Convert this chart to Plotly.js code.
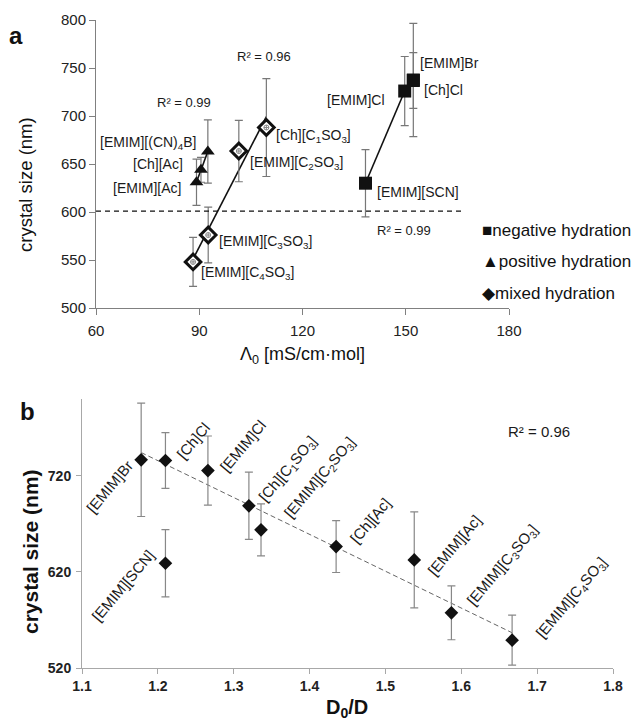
<!DOCTYPE html>
<html>
<head>
<meta charset="utf-8">
<script src="https://cdn.plot.ly/plotly-3.0.1.min.js"></script>
<style>html,body{margin:0;padding:0;background:#fff;}#chart{width:633px;height:722px;}</style>
</head>
<body>
<div id="chart"></div>
<script>
// ---------- Panel a data (Λ0 vs crystal size) ----------
const negNames = ['[EMIM][SCN]', '[EMIM]Cl', '[EMIM]Br', '[Ch]Cl'];
const negL0 = [138.3, 149.7, 152.2, 152.2];
const negSize = [630, 726, 737.5, 737];
const negErr = [35, 36, 59, 29];

const posNames = ['[EMIM][Ac]', '[Ch][Ac]', '[EMIM][(CN)<sub>4</sub>B]'];
const posL0 = [89.2, 90.5, 92.5];
const posSize = [631, 644, 663];
const posErr = [24, 13, 33];

const mixNames = ['[EMIM][C<sub>4</sub>SO<sub>3</sub>]', '[EMIM][C<sub>3</sub>SO<sub>3</sub>]', '[EMIM][C<sub>2</sub>SO<sub>3</sub>]', '[Ch][C<sub>1</sub>SO<sub>3</sub>]'];
const mixL0 = [88.2, 92.6, 101.5, 109.5];
const mixSize = [548, 576, 663.5, 688];
const mixErr = [25.5, 29, 32, 51];

const thresholdSize = 601;
const thresholdL0End = 166.5;

const aXTicks = [60, 90, 120, 150, 180];
const aYTicks = [500, 550, 600, 650, 700, 750, 800];

const aR2Text = ['R² = 0.96', 'R² = 0.99', 'R² = 0.99'];
const aR2X = [108.8, 85.7, 149.4];
const aR2Y = [761.5, 713.9, 580.5];

const legendNames = ['negative hydration', 'positive hydration', 'mixed hydration'];
const legendSymbols = ['■', '▲', '◆'];

// ---------- Panel b data (D0/D vs crystal size) ----------
const bNames = ['[EMIM]Br', '[Ch]Cl', '[EMIM]Cl', '[Ch][C<sub>1</sub>SO<sub>3</sub>]', '[EMIM][C<sub>2</sub>SO<sub>3</sub>]', '[Ch][Ac]', '[EMIM][Ac]', '[EMIM][C<sub>3</sub>SO<sub>3</sub>]', '[EMIM][C<sub>4</sub>SO<sub>3</sub>]', '[EMIM][SCN]'];
const bD0D = [1.178, 1.21, 1.266, 1.32, 1.336, 1.435, 1.538, 1.587, 1.667, 1.21];
const bSize = [736.7, 736, 725.5, 688.8, 663.8, 646.4, 632.5, 577.4, 549, 629];
const bErr = [59, 29, 36, 35, 27, 27, 50, 28, 26, 35];
const bInFit = [true, true, true, true, true, true, true, true, true, false];

const bXTicks = [1.1, 1.2, 1.3, 1.4, 1.5, 1.6, 1.7, 1.8];
const bYTicks = [520, 620, 720];
const bR2Text = 'R² = 0.96';
const bR2X = 1.7026, bR2Y = 766;

// ---------- helpers ----------
function linfit(xs, ys) {
  const n = xs.length;
  const mx = xs.reduce((a, b) => a + b, 0) / n;
  const my = ys.reduce((a, b) => a + b, 0) / n;
  let sxy = 0, sxx = 0;
  for (let i = 0; i < n; i++) { sxy += (xs[i] - mx) * (ys[i] - my); sxx += (xs[i] - mx) ** 2; }
  const m = sxy / sxx, b = my - m * mx;
  const x0 = Math.min(...xs), x1 = Math.max(...xs);
  return { x: [x0, x1], y: [m * x0 + b, m * x1 + b] };
}
function pick(arr, idx) { return idx.map(i => arr[i]); }

const FONT = 'Liberation Sans, Arial, Helvetica, sans-serif';
const errA = (arr) => ({ type: 'data', array: arr, visible: true, color: '#777', thickness: 1.2, width: 4 });
const errB = (arr) => ({ type: 'data', array: arr, visible: true, color: '#888', thickness: 1.2, width: 4 });

const negFit = linfit(pick(negL0, [0, 1]), pick(negSize, [0, 1]));
const posFit = linfit(posL0, posSize);
const mixFit = linfit(mixL0, mixSize);
const bFitX = bD0D.filter((v, i) => bInFit[i]);
const bFitY = bSize.filter((v, i) => bInFit[i]);
const bFit = linfit(bFitX, bFitY);

const traces = [
  { x: negFit.x, y: negFit.y, mode: 'lines', line: { color: '#111', width: 1.6 }, xaxis: 'x', yaxis: 'y', hoverinfo: 'skip' },
  { x: posFit.x, y: posFit.y, mode: 'lines', line: { color: '#111', width: 1.6 }, xaxis: 'x', yaxis: 'y', hoverinfo: 'skip' },
  { x: mixFit.x, y: mixFit.y, mode: 'lines', line: { color: '#111', width: 1.6 }, xaxis: 'x', yaxis: 'y', hoverinfo: 'skip' },
  { x: negL0, y: negSize, error_y: errA(negErr), mode: 'markers', name: legendNames[0],
    marker: { symbol: 'square', size: 13, color: '#111' }, xaxis: 'x', yaxis: 'y' },
  { x: posL0, y: posSize, error_y: errA(posErr), mode: 'markers', name: legendNames[1],
    marker: { symbol: 'triangle-up', size: 12, color: '#111' }, xaxis: 'x', yaxis: 'y' },
  { x: mixL0, y: mixSize, error_y: errA(mixErr), mode: 'markers', name: legendNames[2],
    marker: { symbol: 'diamond', size: 12, color: '#fff', line: { color: '#111', width: 3 } }, xaxis: 'x', yaxis: 'y' },
  { x: mixL0, y: mixSize, mode: 'markers', hoverinfo: 'skip',
    marker: { symbol: 'circle-cross-open', size: 5, color: '#888', line: { width: 1 } }, xaxis: 'x', yaxis: 'y' },
  { x: bFit.x, y: bFit.y, mode: 'lines', line: { color: '#666', width: 1, dash: '5px,3px' }, xaxis: 'x2', yaxis: 'y2', hoverinfo: 'skip' },
  { x: bD0D, y: bSize, error_y: errB(bErr), mode: 'markers',
    marker: { symbol: 'diamond', size: 10.5, color: '#111' }, xaxis: 'x2', yaxis: 'y2' }
];

// label offsets (styling): [xanchor, xshift, yshift]
const negOff = [['left', 10, -9], ['right', -18, -9], ['left', 5, 17], ['left', 9, -10]];
const posOff = [['right', -14, -6], ['right', -16, 6], ['right', -10, 9]];
const mixOff = [['left', 6, -11], ['left', 9, -7], ['left', 9, -12], ['left', 8, -8]];
// panel b: [xanchor, yanchor, xshift, yshift]
const bOff = [['right', 'top', -2, 6], ['left', 'bottom', 5, -4], ['left', 'bottom', 6, -7], ['left', 'bottom', 3, -3],
  ['left', 'bottom', 17, 5], ['left', 'bottom', 8, -3], ['left', 'bottom', 7, -22], ['left', 'bottom', 9, 0],
  ['left', 'bottom', 18, -5], ['right', 'top', -5, 20]];

const ann = [];
function addA(names, xs, ys, offs) {
  names.forEach((n, i) => ann.push({
    x: xs[i], y: ys[i], xref: 'x', yref: 'y', text: n, showarrow: false,
    xanchor: offs[i][0], yanchor: 'middle', xshift: offs[i][1], yshift: offs[i][2],
    font: { family: FONT, size: 14, color: '#1a1a1a' }
  }));
}
addA(negNames, negL0, negSize, negOff);
addA(posNames, posL0, posSize, posOff);
addA(mixNames, mixL0, mixSize, mixOff);
aR2Text.forEach((t, i) => ann.push({ x: aR2X[i], y: aR2Y[i], xref: 'x', yref: 'y', text: t, showarrow: false,
  xanchor: 'center', yanchor: 'middle', font: { family: FONT, size: 13, color: '#1a1a1a' } }));
bNames.forEach((n, i) => ann.push({
  x: bD0D[i], y: bSize[i], xref: 'x2', yref: 'y2', text: n, showarrow: false, textangle: -50,
  xanchor: bOff[i][0], yanchor: bOff[i][1], xshift: bOff[i][2], yshift: bOff[i][3],
  font: { family: FONT, size: 15, color: '#1a1a1a' }
}));
ann.push({ x: bR2X, y: bR2Y, xref: 'x2', yref: 'y2', text: bR2Text, showarrow: false, xanchor: 'center', yanchor: 'middle',
  font: { family: FONT, size: 15, color: '#1a1a1a' } });
// legend (panel a)
const legY = [1 - 230 / 722, 1 - 261 / 722, 1 - 293 / 722];
legendNames.forEach((n, i) => ann.push({ x: 480 / 633, y: legY[i], xref: 'paper', yref: 'paper', xanchor: 'left', yanchor: 'middle',
  text: legendSymbols[i] + n, showarrow: false, font: { family: FONT, size: 17, color: '#111' } }));
// axis titles and panel letters
function paperText(px, py, text, size, angle) {
  ann.push({ x: px / 633, y: 1 - py / 722, xref: 'paper', yref: 'paper', text: text, textangle: angle || 0, showarrow: false,
    xanchor: 'center', yanchor: 'middle', font: { family: FONT, size: size, color: '#111' } });
}
paperText(25, 185, 'crystal size (nm)', 18.5, -90);
paperText(302, 355, 'Λ<sub>0</sub> [mS/cm·mol]', 18);
paperText(30, 552, '<b>crystal size (nm)</b>', 21, -90);
paperText(347, 708, '<b>D<sub>0</sub>/D</b>', 20);
paperText(16, 36, '<b>a</b>', 24);
paperText(27, 411, '<b>b</b>', 24);

const axA = { showline: true, linecolor: '#808080', linewidth: 1, ticks: 'outside', ticklen: 6, tickcolor: '#808080',
  showgrid: false, zeroline: false, fixedrange: true, tickfont: { family: FONT, size: 15, color: '#222' } };
const axB = { showline: true, linecolor: '#a8a8a8', linewidth: 1, ticks: 'outside', ticklen: 5, tickcolor: '#a8a8a8',
  showgrid: false, zeroline: false, fixedrange: true, tickfont: { family: FONT, size: 14, color: '#222', weight: 'bold' } };

const layout = {
  width: 633, height: 722, margin: { l: 0, r: 0, t: 0, b: 0 },
  paper_bgcolor: '#fff', plot_bgcolor: 'rgba(0,0,0,0)', showlegend: false,
  font: { family: FONT },
  xaxis: Object.assign({}, axA, { domain: [96 / 633, 509 / 633], range: [60, 180], tickvals: aXTicks, anchor: 'y', ticklabelstandoff: 3 }),
  yaxis: Object.assign({}, axA, { domain: [1 - 308 / 722, 1 - 20 / 722], range: [500, 800], tickvals: aYTicks, anchor: 'x' }),
  xaxis2: Object.assign({}, axB, { domain: [82 / 633, 613 / 633], range: [1.1, 1.8], tickvals: bXTicks, tickformat: '.1f', anchor: 'y2' }),
  yaxis2: Object.assign({}, axB, { domain: [1 - 668 / 722, 1 - 399 / 722], range: [520, 800], tickvals: bYTicks, anchor: 'x2', ticklabelstandoff: 2 }),
  shapes: [{ type: 'line', xref: 'x', yref: 'y', x0: 60, x1: thresholdL0End, y0: thresholdSize, y1: thresholdSize,
    line: { color: '#111', width: 1.3, dash: '5px,4px' } }],
  annotations: ann
};

Plotly.newPlot('chart', traces, layout, { staticPlot: true, displayModeBar: false });
</script>
</body>
</html>
